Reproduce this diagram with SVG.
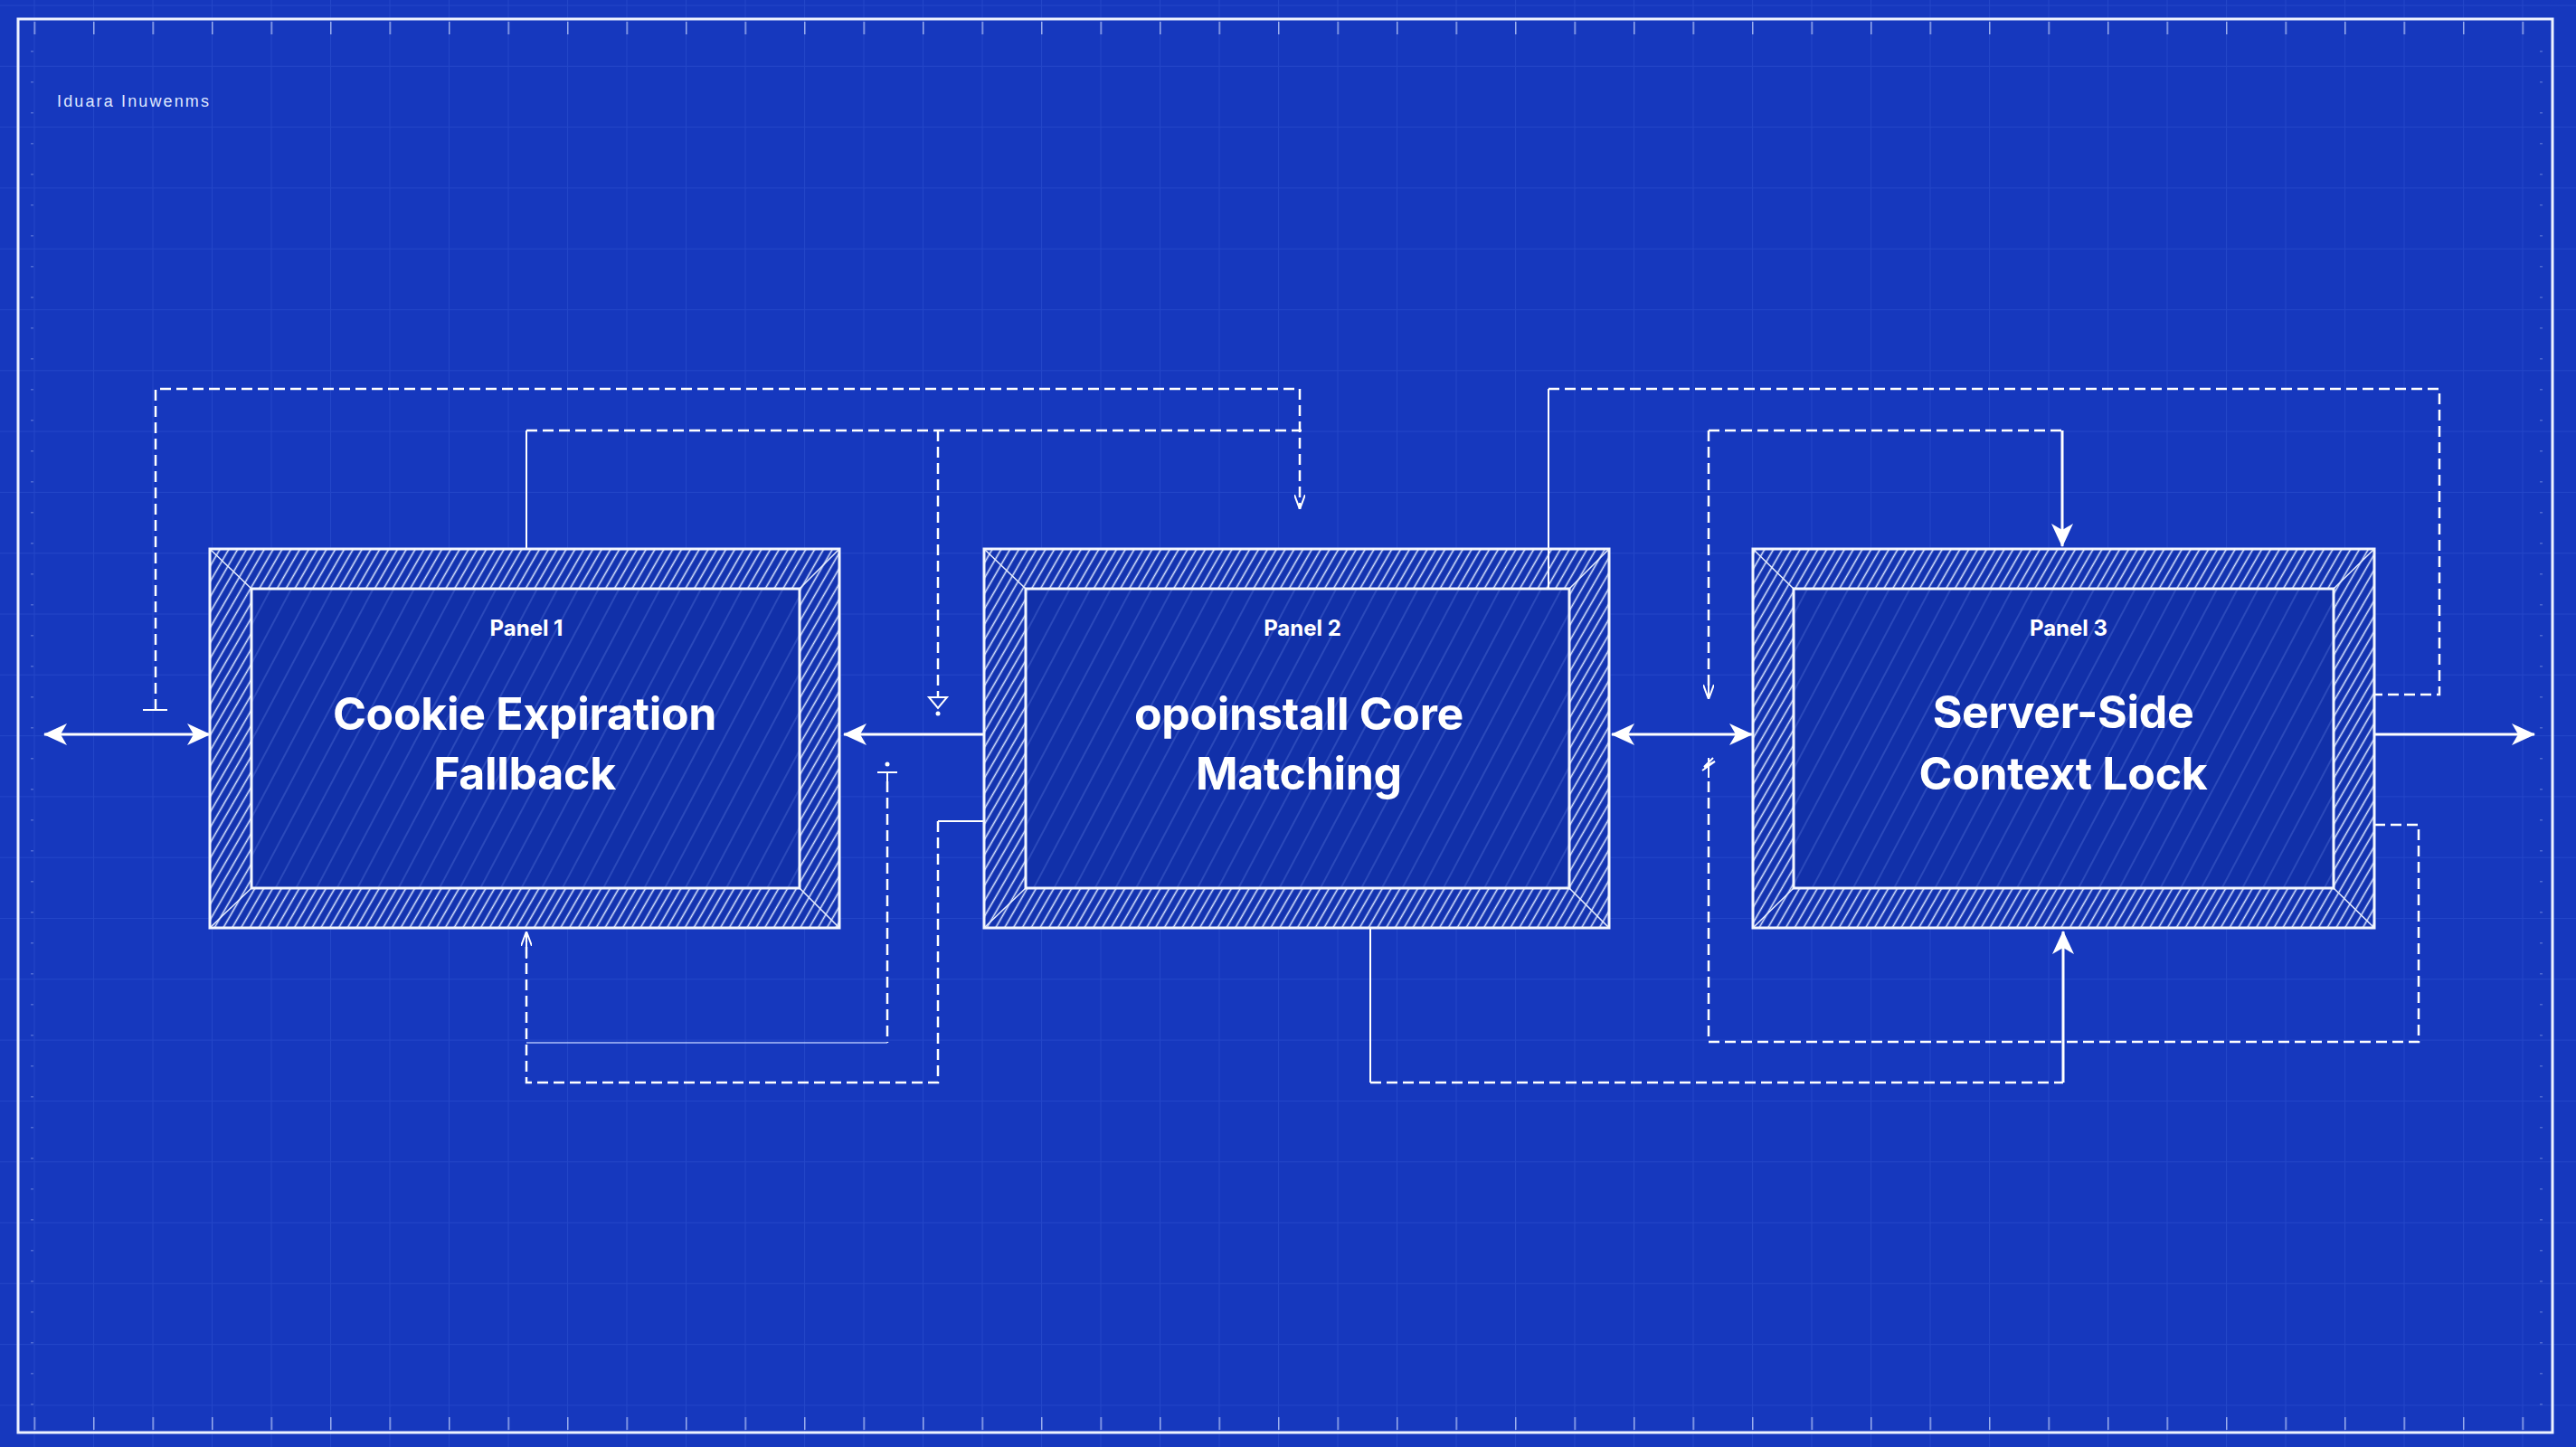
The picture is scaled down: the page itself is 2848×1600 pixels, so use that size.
<svg xmlns="http://www.w3.org/2000/svg" width="2848" height="1600" viewBox="0 0 2848 1600">
<defs>
<style>
.bg{fill:#1638be}
.frame{fill:none;stroke:#eef3ff;stroke-width:3}
.band{fill:#1333b0}
.inner{fill:#1130a9}
.edge{fill:none;stroke:#f2f6ff;stroke-width:3}
.miter{stroke:#e8efff;stroke-width:1.5}
.ptitle{font-family:Inter,"Liberation Sans",sans-serif;font-weight:700;font-size:24px;fill:#fff;text-anchor:middle}
.plabel{font-family:Inter,"Liberation Sans",sans-serif;font-weight:700;font-size:50px;fill:#fff;text-anchor:middle;letter-spacing:-0.3px}
.solid{fill:none;stroke:#fff;stroke-width:3}
.thin{fill:none;stroke:#fff;stroke-width:2}
.dash{fill:none;stroke:#fff;stroke-width:2.5;stroke-dasharray:12 6}
.hdr{font-family:"Liberation Sans",Arial,sans-serif;font-size:18px;fill:#dfe7ff}
</style>
<pattern id="grid" patternUnits="userSpaceOnUse" x="37.5" y="5.5" width="65.5" height="67.3">
<path d="M0,0 V67.3 M0,0 H65.5" stroke="#6a90ff" stroke-opacity="0.16" stroke-width="2"/>
</pattern>
<pattern id="tkx" patternUnits="userSpaceOnUse" x="37.5" y="0" width="65.5" height="1600">
<path d="M0,0 V1600" stroke="#cfdcff" stroke-opacity="0.7" stroke-width="3"/>
</pattern>
<pattern id="tky" patternUnits="userSpaceOnUse" x="0" y="22" width="2848" height="34">
<path d="M0,0 H2848" stroke="#cfdcff" stroke-opacity="0.3" stroke-width="3"/>
</pattern>
<pattern id="hb" patternUnits="userSpaceOnUse" width="8.5" height="8.5" patternTransform="rotate(30)">
<line x1="4.25" y1="0" x2="4.25" y2="8.5" stroke="#dbe6ff" stroke-width="1.6"/>
</pattern>
<pattern id="hi" patternUnits="userSpaceOnUse" width="20" height="20" patternTransform="rotate(28)">
<line x1="10" y1="0" x2="10" y2="20" stroke="#8fb0ff" stroke-opacity="0.4" stroke-width="1"/>
</pattern>
<marker id="af" viewBox="0 0 26 24" refX="25" refY="12" markerWidth="26" markerHeight="24" markerUnits="userSpaceOnUse" orient="auto-start-reverse">
<path d="M0,0 L26,12 L0,24 L7,12 Z" fill="#fff"/>
</marker>
<marker id="av" viewBox="0 0 16 12" refX="16" refY="6" markerWidth="16" markerHeight="12" markerUnits="userSpaceOnUse" orient="auto">
<path d="M0,0 L16,6 L0,12" fill="none" stroke="#fff" stroke-width="2"/>
</marker>
</defs>

<rect class="bg" x="0" y="0" width="2848" height="1600"/>
<rect x="0" y="0" width="2848" height="1600" fill="url(#grid)"/>
<rect x="22" y="24" width="2798" height="14" fill="url(#tkx)"/>
<rect x="22" y="1567" width="2798" height="14" fill="url(#tkx)"/>
<rect x="34" y="40" width="3" height="1520" fill="url(#tky)"/>
<rect x="2808" y="40" width="3" height="1520" fill="url(#tky)"/>
<rect class="frame" x="20" y="21" width="2802" height="1563"/>
<text class="hdr" x="63" y="118" textLength="168">Iduara  Inuwenms</text>

<g id="connectors">
<path class="solid" d="M49,812 H232" marker-start="url(#af)" marker-end="url(#af)"/>
<path class="dash" d="M172,785 V430 H1437 V563" marker-end="url(#av)"/>
<path class="thin" d="M158,785 H185"/>
<path class="thin" d="M582,607 V476"/>
<path class="dash" d="M582,476 H1439"/>
<path class="dash" d="M1037,476 V771"/>
<path class="thin" d="M1027,771 H1047 L1037,783 Z"/>
<circle cx="1037" cy="789" r="2.5" fill="#fff"/>
<path class="solid" d="M1088,812 H933" marker-end="url(#af)"/>
<circle cx="981" cy="845" r="2.5" fill="#fff"/>
<path class="thin" d="M970,854 H992 M981,854 V864"/>
<path class="dash" d="M981,864 V1153"/>
<path d="M981,1153 H582" fill="none" stroke="#b9cbff" stroke-width="2" stroke-opacity="0.7"/>
<path class="thin" d="M1088,908 H1037"/>
<path class="dash" d="M1037,908 V1197 H582 V1040"/>
<path class="thin" d="M582,1060 V1030" marker-end="url(#av)"/>
<path class="solid" d="M1782,812 H1937" marker-start="url(#af)" marker-end="url(#af)"/>
<path class="dash" d="M1889,476 V760"/>
<path class="thin" d="M1889,750 V773" marker-end="url(#av)"/>
<path class="dash" d="M1889,476 H2280"/>
<path class="solid" d="M2280,476 V604" marker-end="url(#af)"/>
<path class="thin" d="M1712,648 V430"/>
<path class="dash" d="M1712,430 H2697 V768 H2625"/>
<path class="solid" d="M2625,812 H2802" marker-end="url(#af)"/>
<path class="dash" d="M2625,912 H2674 V1152 H1889 V858"/>
<path class="thin" d="M1889,860 V838 M1882,852 L1896,842 L1884,848 L1894,838"/>
<path class="thin" d="M1515,1026 V1197"/>
<path class="dash" d="M1515,1197 H2281"/>
<path class="solid" d="M2281,1197 V1030" marker-end="url(#af)"/>
</g>

<g id="panel1">
<rect class="band" x="232" y="607" width="696" height="419"/>
<rect x="232" y="607" width="696" height="419" fill="url(#hb)"/>
<rect class="inner" x="278" y="651" width="606" height="331"/>
<rect x="278" y="651" width="606" height="331" fill="url(#hi)"/>
<path class="miter" d="M232,607 L278,651 M928,607 L884,651 M232,1026 L278,982 M928,1026 L884,982"/>
<rect class="edge" x="232" y="607" width="696" height="419"/>
<rect class="edge" x="278" y="651" width="606" height="331"/>
<text class="ptitle" x="582" y="703">Panel 1</text>
<text class="plabel" x="580" y="807">Cookie Expiration</text>
<text class="plabel" x="580" y="873">Fallback</text>
</g>

<g id="panel2">
<rect class="band" x="1088" y="607" width="691" height="419"/>
<rect x="1088" y="607" width="691" height="419" fill="url(#hb)"/>
<rect class="inner" x="1134" y="651" width="601" height="331"/>
<rect x="1134" y="651" width="601" height="331" fill="url(#hi)"/>
<path class="miter" d="M1088,607 L1134,651 M1779,607 L1735,651 M1088,1026 L1134,982 M1779,1026 L1735,982"/>
<rect class="edge" x="1088" y="607" width="691" height="419"/>
<rect class="edge" x="1134" y="651" width="601" height="331"/>
<path class="thin" d="M1712,607 V651"/>
<text class="ptitle" x="1440" y="703">Panel 2</text>
<text class="plabel" x="1436" y="807">opoinstall Core</text>
<text class="plabel" x="1436" y="873">Matching</text>
</g>

<g id="panel3">
<rect class="band" x="1938" y="607" width="687" height="419"/>
<rect x="1938" y="607" width="687" height="419" fill="url(#hb)"/>
<rect class="inner" x="1983" y="651" width="597" height="331"/>
<rect x="1983" y="651" width="597" height="331" fill="url(#hi)"/>
<path class="miter" d="M1938,607 L1983,651 M2625,607 L2580,651 M1938,1026 L1983,982 M2625,1026 L2580,982"/>
<rect class="edge" x="1938" y="607" width="687" height="419"/>
<rect class="edge" x="1983" y="651" width="597" height="331"/>
<text class="ptitle" x="2287" y="703">Panel 3</text>
<text class="plabel" x="2281" y="805">Server-Side</text>
<text class="plabel" x="2281" y="873">Context Lock</text>
</g>
</svg>
